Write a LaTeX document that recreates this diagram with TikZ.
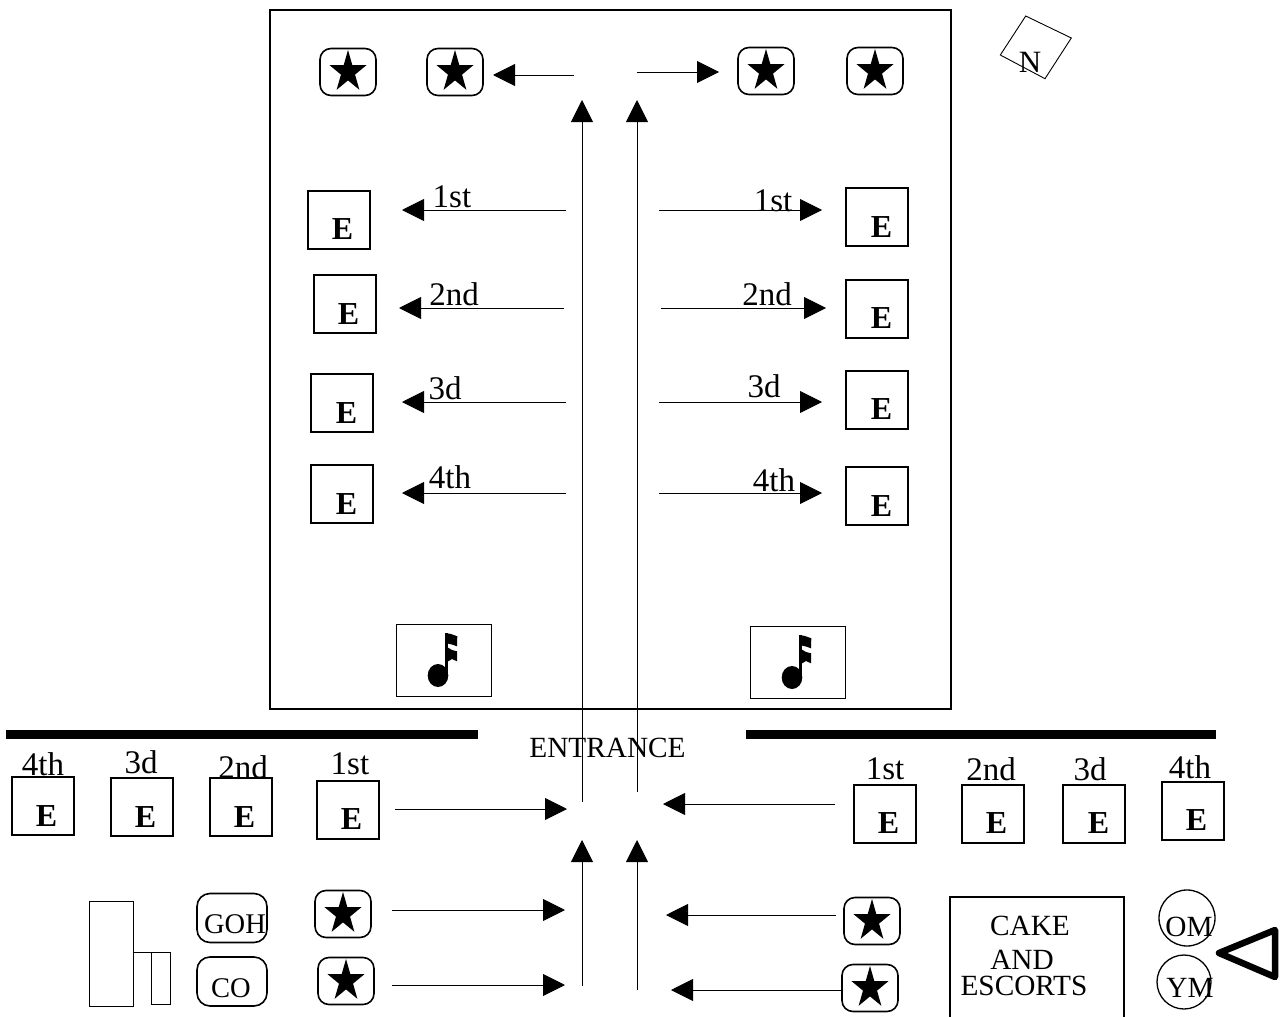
\documentclass[tikz,border=0pt]{standalone}
\usepackage{fontspec}
\setmainfont{Liberation Serif}
\usetikzlibrary{arrows.meta,shapes.geometric}
\tikzset{
  plainbox/.style={draw=black,line width=1.3pt,inner sep=0pt,outer sep=0pt,anchor=north west},
  ebox/.style={plainbox,minimum width=62pt,minimum height=58pt},
  starframe/.style={draw=black,line width=1.6pt,rounded corners=11pt,minimum width=56pt,minimum height=47pt,inner sep=0pt,outer sep=0pt},
  starmark/.style={star,star points=5,star point ratio=2.618,minimum size=44pt,fill=black,inner sep=0pt,outer sep=0pt,transform shape},
  notebox/.style={draw=black,line width=.7pt,minimum width=95pt,minimum height=72pt,inner sep=0pt,outer sep=0pt,anchor=north west},
  letter/.style={font=\fontsize{32}{32}\selectfont\bfseries,inner sep=0pt},
  ordlabel/.style={font=\fontsize{33}{33}\selectfont,inner sep=0pt},
  word/.style={font=\fontsize{29.3}{29.3}\selectfont,inner sep=0pt},
  flow/.style={draw=black,line width=.9pt,-{Triangle[length=22pt,width=22pt]}},
  thinbox/.style={draw=black,line width=.8pt},
  wall/.style={draw=black,line width=9pt},
  guest/.style={draw=black,line width=1.3pt,circle,inner sep=0pt,outer sep=0pt},
  rounded label/.style={draw=black,line width=1.6pt,rounded corners=13pt,inner sep=0pt,outer sep=0pt,minimum width=70pt,minimum height=49pt}
}
\newcommand{\eboxat}[5]{\node[ebox] (#1) at (#2,#3) {}; \node[letter] (#1t) at (#4+.5,#5+1) {E};}
\newcommand{\starat}[3]{\node[starframe] (#1) at (#2,#3) {};
  \begin{scope}[shift={(#2,#3)},xscale=.88] \node[starmark] (#1s) at (0,0) {}; \end{scope}}
\newcommand{\flowarrow}[5]{\coordinate (#1a) at (#2,#3); \coordinate (#1b) at (#4,#5); \draw[flow] (#1a) -- (#1b);}
\newcommand{\noteat}[3]{\node[notebox] (#1) at (#2,#3) {};
  \begin{scope}[shift={(#2,#3)}]
    \fill (42,51.5) ellipse [x radius=10.3,y radius=11.5];
    \fill (49.3,9) rectangle (52,50);
    \fill (49.3,9) -- (55,10) -- (61.3,12.3) -- (61,22.3) -- (56,20.5) -- (51.5,19.5) -- cycle;
    \fill (51,23) -- (56,26) -- (61,27.3) -- (61,37.3) -- (56,35) -- (51,38) -- cycle;
  \end{scope}}
\begin{document}
\begin{tikzpicture}[x=1pt,y=-1pt]
\useasboundingbox (0,0) rectangle (1283,1017);
% hall
\node[draw=black,line width=2pt,minimum width=681pt,minimum height=699pt,inner sep=0pt,outer sep=0pt,anchor=north west] (hall) at (270,10) {};
% north marker
\coordinate (na) at (1025.7,16); \coordinate (nb) at (1071.3,38); \coordinate (nc) at (1045,78.7); \coordinate (nd) at (1000.3,55);
\draw[black,line width=.9pt] (na) -- (nb) -- (nc) -- (nd) -- cycle;
\node[font=\fontsize{31}{31}\selectfont,inner sep=0pt] (north) at (1030,62) {N};
% top stars
\starat{s1}{348}{72}
\starat{s2}{455}{72}
\starat{s3}{766}{71}
\starat{s4}{875}{71}
\flowarrow{t1}{574}{75}{493}{75}
\flowarrow{t2}{637}{72}{719}{72}
\flowarrow{v1}{582}{802}{582}{100}
\flowarrow{v2}{637}{792}{637}{100}
% E boxes inside
\eboxat{l1}{308}{191}{342}{228}
\eboxat{l2}{314}{275}{348}{313}
\eboxat{l3}{311}{374}{346}{412}
\eboxat{l4}{311}{465}{346}{503}
\eboxat{r1}{846}{188}{881}{226}
\eboxat{r2}{846}{280}{881}{317}
\eboxat{r3}{846}{371}{881}{408}
\eboxat{r4}{846}{467}{881}{505}
\flowarrow{al1}{566}{210}{402}{210}
\flowarrow{al2}{564}{308}{399}{308}
\flowarrow{al3}{566}{402}{402}{402}
\flowarrow{al4}{566}{493}{402}{493}
\flowarrow{ar1}{659}{210}{822}{210}
\flowarrow{ar2}{661}{308}{826}{308}
\flowarrow{ar3}{659}{402}{822}{402}
\flowarrow{ar4}{659}{493}{822}{493}
\node[ordlabel] (ll1) at (452,197) {1st};
\node[ordlabel] (ll2) at (454,294) {2nd};
\node[ordlabel] (ll3) at (445,388) {3d};
\node[ordlabel] (ll4) at (450,477) {4th};
\node[ordlabel] (rl1) at (773,201) {1st};
\node[ordlabel] (rl2) at (767,294) {2nd};
\node[ordlabel] (rl3) at (764,386) {3d};
\node[ordlabel] (rl4) at (774,480) {4th};
% music
\noteat{m1}{396}{624}
\noteat{m2}{750}{626}
% walls
\coordinate (w1a) at (6,734.5); \coordinate (w1b) at (478,734.5);
\coordinate (w2a) at (746,734.5); \coordinate (w2b) at (1216,734.5);
\draw[wall] (w1a) -- (w1b);
\draw[wall] (w2a) -- (w2b);
\node[word] (ent) at (607.5,748) {ENTRANCE};
% outside E boxes
\eboxat{ol4}{12}{777}{46}{815}
\eboxat{ol3}{111}{778}{145}{816}
\eboxat{ol2}{210}{778}{244}{816}
\eboxat{ol1}{317}{781}{351}{818}
\eboxat{or1}{854}{785}{888}{822}
\eboxat{or2}{962}{785}{996}{822}
\eboxat{or3}{1063}{785}{1098}{822}
\eboxat{or4}{1162}{782}{1196}{819}
\node[ordlabel] (oll4) at (43,764) {4th};
\node[ordlabel] (oll3) at (141,762) {3d};
\node[ordlabel] (oll2) at (243,767) {2nd};
\node[ordlabel] (oll1) at (350,764) {1st};
\node[ordlabel] (orl1) at (885,769) {1st};
\node[ordlabel] (orl2) at (991,769) {2nd};
\node[ordlabel] (orl3) at (1090,769) {3d};
\node[ordlabel] (orl4) at (1190,767) {4th};
\flowarrow{b1}{395}{809}{567}{809}
\flowarrow{b2}{835}{804}{663}{804}
\flowarrow{b3}{582}{986}{582}{840}
\flowarrow{b4}{637}{990}{637}{840}
\flowarrow{b5}{392}{910}{565}{910}
\flowarrow{b6}{392}{985}{565}{985}
\flowarrow{b7}{836}{915}{666}{915}
\flowarrow{b8}{843}{990}{671}{990}
% bottom stars
\starat{s5}{343}{914}
\starat{s6}{346}{981}
\starat{s7}{872}{921}
\starat{s8}{870}{988}
% head table
\node[rounded label] (goh) at (232,918) {};
\node[word,font=\fontsize{28.5}{28.5}\selectfont] (goht) at (235,924) {GOH};
\node[rounded label] (co) at (232,981.5) {};
\node[word,font=\fontsize{28.5}{28.5}\selectfont] (cot) at (231,988) {CO};
\node[thinbox,inner sep=0pt,outer sep=0pt,minimum width=44pt,minimum height=105pt,anchor=north west] (tall) at (89,901) {};
\node[thinbox,inner sep=0pt,outer sep=0pt,minimum width=19pt,minimum height=52pt,anchor=north west] (small) at (151,952) {};
\draw[black,line width=.8pt] (small.north west) -- (tall.east |- small.north west);
% cake
\coordinate (c1) at (950,1020); \coordinate (c2) at (950,897); \coordinate (c3) at (1124,897); \coordinate (c4) at (1124,1020);
\draw[black,line width=1.5pt] (c1) -- (c2) -- (c3) -- (c4);
\node[word] (cake) at (1030,926) {CAKE};
\node[word] (and) at (1022,960) {AND};
\node[word] (esc) at (1024,986) {ESCORTS};
% guests
\node[guest,minimum size=56pt] (om) at (1187,918) {};
\node[word] (omt) at (1189,927) {OM};
\node[guest,minimum size=54pt] (ym) at (1184,982) {};
\node[word] (ymt) at (1190,988) {YM};
\coordinate (tr1) at (1219,953); \coordinate (tr2) at (1275,930); \coordinate (tr3) at (1275,977);
\draw[black,line width=6.5pt,line join=round] (tr1) -- (tr2) -- (tr3) -- cycle;
\end{tikzpicture}
\end{document}
